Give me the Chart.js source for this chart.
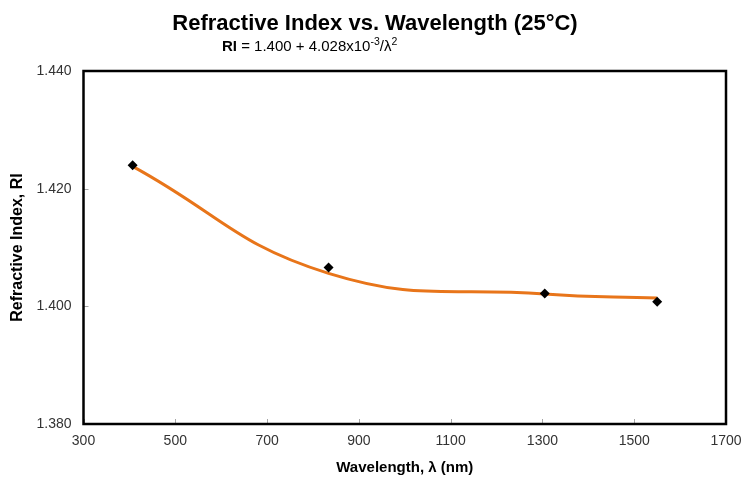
<!DOCTYPE html>
<html>
<head>
<meta charset="utf-8">
<script src="https://cdn.jsdelivr.net/npm/chart.js@4.4.1/dist/chart.umd.min.js"></script>
<style>
html,body{margin:0;padding:0;background:#fff;}
#wrap{width:745px;height:481px;}
</style>
</head>
<body>
<div id="wrap"><canvas id="c" width="745" height="481"></canvas></div>
<script>
const chartTitle = "Refractive Index vs. Wavelength (25°C)";
const xAxisTitle = "Wavelength, \u03bb (nm)";
const yAxisTitle = "Refractive Index, RI";
const wavelengths = [407, 834, 1305, 1550];
const measuredRI = [1.4240, 1.4066, 1.4022, 1.4008];
const fitRI = [1.4238, 1.4056, 1.4021, 1.4014];
const xTickRange = [300, 1700, 200];
const yTickRange = [1.380, 1.440, 0.020];

const FONT = "'Liberation Sans', Arial, sans-serif";

const measuredPts = wavelengths.map((w, i) => ({x: w, y: measuredRI[i]}));
const fitPts = wavelengths.map((w, i) => ({x: w, y: fitRI[i]}));

const decor = {
  id: 'decor',
  afterDatasetsDraw(chart) {
    const ctx = chart.ctx;
    const a = chart.chartArea;
    const xs = chart.scales.x, ys = chart.scales.y;
    ctx.save();
    ctx.strokeStyle = '#a6a6a6';
    ctx.lineWidth = 1;
    xs.ticks.forEach(t => {
      const px = Math.round(xs.getPixelForValue(t.value)) + 0.5;
      ctx.beginPath(); ctx.moveTo(px, a.bottom); ctx.lineTo(px, a.bottom - 5); ctx.stroke();
    });
    ys.ticks.forEach(t => {
      const py = Math.round(ys.getPixelForValue(t.value)) + 0.5;
      ctx.beginPath(); ctx.moveTo(a.left, py); ctx.lineTo(a.left + 5, py); ctx.stroke();
    });
    ctx.strokeStyle = '#000';
    ctx.lineWidth = 2.5;
    ctx.strokeRect(a.left, a.top, a.right - a.left, a.bottom - a.top);
    ctx.restore();
  },
  afterDraw(chart) {
    const ctx = chart.ctx;
    ctx.save();
    ctx.fillStyle = '#000';
    ctx.textBaseline = 'alphabetic';
    ctx.font = 'bold 22px ' + FONT;
    ctx.textAlign = 'center';
    ctx.fillText(chartTitle, 375, 30);
    ctx.textAlign = 'left';
    let x = 222; const base = 51;
    const parts = [
      ['bold 15px ', 'RI', 0],
      ['15px ', ' = 1.400 + 4.028x10', 0],
      ['10.5px ', '-3', -6],
      ['15px ', '/\u03bb', 0],
      ['10.5px ', '2', -6]
    ];
    parts.forEach(p => {
      ctx.font = p[0] + FONT;
      ctx.fillText(p[1], x, base + p[2]);
      x += ctx.measureText(p[1]).width;
    });
    ctx.restore();
  }
};

new Chart(document.getElementById('c'), {
  type: 'line',
  data: {
    datasets: [
      {
        label: 'Measured',
        data: measuredPts,
        showLine: false,
        pointStyle: 'rectRot',
        pointRadius: 5,
        pointBackgroundColor: '#000',
        pointBorderColor: '#000',
        pointBorderWidth: 0
      },
      {
        label: 'Fit',
        data: fitPts,
        borderColor: '#E8751A',
        borderWidth: 3,
        pointRadius: 0,
        tension: 0.45,
        fill: false
      }
    ]
  },
  options: {
    responsive: false,
    animation: false,
    layout: {padding: {top: 71, right: 19, left: 0, bottom: 0}},
    plugins: {legend: {display: false}, tooltip: {enabled: false}, title: {display: false}},
    scales: {
      x: {
        type: 'linear',
        min: xTickRange[0], max: xTickRange[1],
        grid: {display: false, drawTicks: false},
        border: {display: false},
        ticks: {stepSize: xTickRange[2], color: '#333', font: {family: FONT, size: 14}, padding: 9, maxRotation: 0,
          callback: v => String(v)},
        title: {display: true, text: xAxisTitle, color: '#000', font: {family: FONT, size: 15, weight: 'bold'}, padding: {top: 0, bottom: 4}},
        afterFit(s) { s.height = 57; s.paddingRight = 0; s.paddingLeft = 0; }
      },
      y: {
        type: 'linear',
        min: yTickRange[0], max: yTickRange[1],
        grid: {display: false, drawTicks: false},
        border: {display: false},
        ticks: {stepSize: yTickRange[2], color: '#333', font: {family: FONT, size: 14}, padding: 12,
          callback: v => Number(v).toFixed(3)},
        title: {display: true, text: yAxisTitle, color: '#000', font: {family: FONT, size: 16, weight: 'bold'}, padding: {top: 8, bottom: 0}},
        afterFit(s) { s.width = 83.5; s.paddingTop = 0; s.paddingBottom = 0; }
      }
    }
  },
  plugins: [decor]
});
</script>
</body>
</html>
